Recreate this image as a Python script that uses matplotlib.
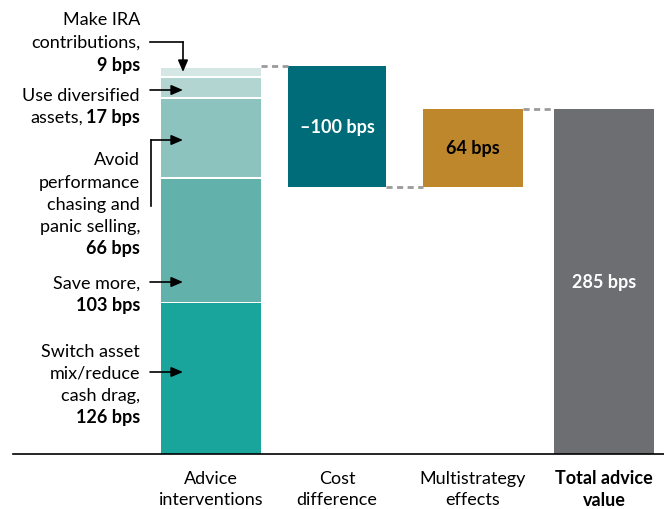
import matplotlib
matplotlib.use("Agg")
import matplotlib.pyplot as plt

plt.rcParams['font.family'] = ['Lato', 'DejaVu Sans']

# ---- data ----
segment_names = ["Switch asset mix/reduce cash drag", "Save more",
                 "Avoid performance chasing and panic selling",
                 "Use diversified assets", "Make IRA contributions"]
segment_values = [126, 103, 66, 17, 9]
cost_difference = -100
multistrategy = 64
categories = ["Advice\ninterventions", "Cost\ndifference", "Multistrategy\neffects", "Total advice\nvalue"]

# ---- style / layout ----
seg_colors = ["#1aa59c", "#62b1ab", "#8cc3bf", "#b2d5d2", "#d4e7e5"]
cost_color = "#006c79"
multi_color = "#bf872c"
total_color = "#6d6e72"
px_per_bp = 1.21
base_px = 455
W, H = 664, 510

fig = plt.figure(figsize=(W / 100, H / 100), dpi=100)
ax = fig.add_axes([0, 0, 1, 1])
ax.set_xlim(0, W)
ax.set_ylim(-(H - base_px) / px_per_bp, base_px / px_per_bp)
ax.axis('off')

centers = [211, 337, 473, 604]
width = 100
FS = 13

# stacked advice interventions
bottom = 0
for v, c in zip(segment_values, seg_colors):
    ax.bar(centers[0], v - 1.6, bottom=bottom, width=width, color=c, linewidth=0)
    bottom += v
top_adv = bottom
total = top_adv + cost_difference + multistrategy

ax.bar(centers[1], -cost_difference, bottom=top_adv + cost_difference, width=width - 2,
       color=cost_color, linewidth=0)
ax.bar(centers[2], multistrategy, bottom=top_adv + cost_difference, width=width,
       color=multi_color, linewidth=0)
ax.bar(centers[3], total, bottom=0, width=width, color=total_color, linewidth=0)

# connectors
dash = dict(color="#9a9a9a", lw=2, ls=(0, (2.2, 1.6)))
ax.plot([centers[0] + width / 2, centers[1] - width / 2 + 1], [top_adv, top_adv], **dash)
lvl = top_adv + cost_difference
ax.plot([centers[1] + width / 2 - 1, centers[2] - width / 2], [lvl, lvl], **dash)
ax.plot([centers[2] + width / 2, centers[3] - width / 2], [total, total], **dash)

# baseline
ax.plot([13, W], [0, 0], color="black", lw=1.2)

# bar labels
ax.text(centers[1], top_adv + cost_difference / 2, "\u2013100 bps", color="white",
        fontweight='bold', ha='center', va='center', fontsize=FS)
ax.text(centers[2], top_adv + cost_difference + multistrategy / 2, f"{multistrategy} bps",
        color="black", fontweight='bold', ha='center', va='center', fontsize=FS)
ax.text(centers[3], total / 2, f"{total} bps", color="white",
        fontweight='bold', ha='center', va='center', fontsize=FS)

# category labels
for i, (xc, lab) in enumerate(zip(centers, categories)):
    ax.text(xc, -(489.5 - base_px) / px_per_bp, lab, ha='center', va='center',
            fontsize=FS, linespacing=1.38, fontweight='bold' if i == 3 else 'normal',
            color='black')

def ypx(p):
    return (base_px - p) / px_per_bp

fig.canvas.draw()
renderer = fig.canvas.get_renderer()
XR = 140

def line(y, normal, bold=None):
    yy = ypx(y)
    if bold is None:
        ax.text(XR, yy, normal, ha='right', va='center', fontsize=FS)
        return
    t = ax.text(XR, yy, bold, ha='right', va='center', fontsize=FS, fontweight='bold')
    if normal:
        bb = t.get_window_extent(renderer=renderer)
        x_left = ax.transData.inverted().transform((bb.x0, 0))[0]
        ax.text(x_left - 3, yy, normal, ha='right', va='center', fontsize=FS)

labels_lines = [
    (20, "Make IRA", None), (43, "contributions,", None), (66, "", f"{segment_values[4]} bps"),
    (96, "Use diversified", None), (118, "assets,", f"{segment_values[3]} bps"),
    (160, "Avoid", None), (183, "performance", None), (205, "chasing and", None),
    (227, "panic selling,", None), (249, "", f"{segment_values[2]} bps"),
    (284, "Save more,", None), (306, "", f"{segment_values[1]} bps"),
    (352, "Switch asset", None), (374, "mix/reduce", None), (396, "cash drag,", None),
    (418, "", f"{segment_values[0]} bps"),
]
for y, n, b in labels_lines:
    line(y, n, b)

arr = dict(arrowstyle='-|>,head_length=0.7,head_width=0.3', color='black', lw=1.2,
           shrinkA=0, shrinkB=0)
ax.plot([150, 183], [ypx(43), ypx(43)], color='black', lw=1.2)
ax.annotate("", xy=(183, ypx(73)), xytext=(183, ypx(43)), arrowprops=arr)
ax.annotate("", xy=(183, ypx(91)), xytext=(150, ypx(91)), arrowprops=arr)
ax.plot([151, 151], [ypx(207), ypx(141)], color='black', lw=1.2)
ax.annotate("", xy=(183, ypx(141)), xytext=(151, ypx(141)), arrowprops=arr)
ax.annotate("", xy=(183, ypx(283)), xytext=(150, ypx(283)), arrowprops=arr)
ax.annotate("", xy=(183, ypx(373)), xytext=(150, ypx(373)), arrowprops=arr)

fig.savefig("out.png", dpi=100)
